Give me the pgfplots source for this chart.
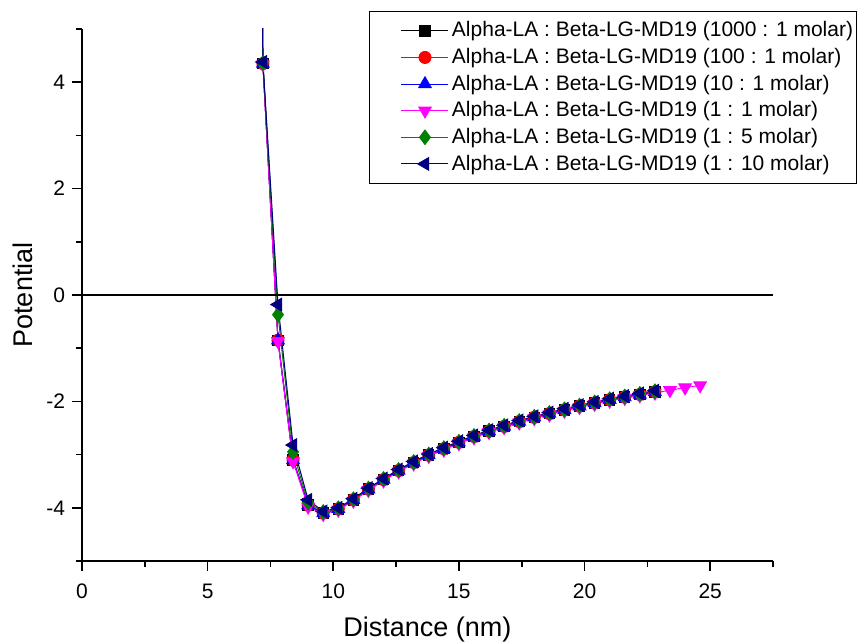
\documentclass[border=0pt]{standalone}
\usepackage{pgfplots}
\pgfplotsset{compat=1.18}
\usepackage{pgfplotstable}
\usepackage{fontspec}
\setmainfont{Liberation Sans}
\definecolor{cgreen}{RGB}{0,128,0}
\definecolor{cnavy}{RGB}{0,0,128}
\definecolor{cmag}{RGB}{255,0,255}

\pgfplotstableread{
x y
6.6 30
7.2 4.35
7.8 -0.85
8.4 -3.10
9.0 -3.95
9.6 -4.10
10.2 -4.02
10.8 -3.85
11.4 -3.65
12.0 -3.47
12.6 -3.30
13.2 -3.15
13.8 -3.01
14.4 -2.89
15.0 -2.77
15.6 -2.66
16.2 -2.56
16.8 -2.47
17.4 -2.38
18.0 -2.30
18.6 -2.23
19.2 -2.16
19.8 -2.09
20.4 -2.03
21.0 -1.97
21.6 -1.92
22.2 -1.87
22.8 -1.82
}\dataA

\pgfplotstableread{
x y
6.6 30
7.2 4.33
7.8 -0.87
8.4 -3.13
9.0 -3.98
9.6 -4.12
10.2 -4.04
10.8 -3.87
11.4 -3.67
12.0 -3.49
12.6 -3.32
13.2 -3.17
13.8 -3.03
14.4 -2.91
15.0 -2.79
15.6 -2.68
16.2 -2.58
16.8 -2.49
17.4 -2.40
18.0 -2.32
18.6 -2.25
19.2 -2.18
19.8 -2.11
20.4 -2.05
21.0 -1.99
21.6 -1.94
22.2 -1.89
22.8 -1.84
23.4 -1.79
24.0 -1.74
24.6 -1.70
}\dataD

\pgfplotstableread{
x y
6.6 30
7.2 4.36
7.8 -0.37
8.4 -2.95
9.0 -3.90
9.6 -4.08
10.2 -4.01
10.8 -3.84
11.4 -3.64
12.0 -3.46
12.6 -3.29
13.2 -3.14
13.8 -3.00
14.4 -2.88
15.0 -2.76
15.6 -2.65
16.2 -2.55
16.8 -2.46
17.4 -2.37
18.0 -2.29
18.6 -2.22
19.2 -2.15
19.8 -2.08
20.4 -2.02
21.0 -1.96
21.6 -1.91
22.2 -1.86
22.8 -1.81
}\dataE

\pgfplotstableread{
x y
6.6 30
7.2 4.38
7.8 -0.18
8.4 -2.82
9.0 -3.85
9.6 -4.07
10.2 -4.00
10.8 -3.83
11.4 -3.63
12.0 -3.45
12.6 -3.28
13.2 -3.13
13.8 -2.99
14.4 -2.87
15.0 -2.75
15.6 -2.64
16.2 -2.54
16.8 -2.45
17.4 -2.36
18.0 -2.28
18.6 -2.21
19.2 -2.14
19.8 -2.07
20.4 -2.01
21.0 -1.95
21.6 -1.90
22.2 -1.85
22.8 -1.80
}\dataF

\begin{document}
\begin{tikzpicture}
\useasboundingbox (-41pt,-41pt) rectangle (388pt,280.5pt);
\begin{axis}[
  width=345.5pt, height=266pt, scale only axis,
  xmin=0, xmax=27.5, ymin=-5, ymax=5,
  axis x line*=bottom, axis y line*=left,
  axis line style={line width=1pt, -},
  tick align=outside,
  xtick={0,5,10,15,20,25},
  minor xtick={2.5,7.5,12.5,17.5,22.5,27.5},
  ytick={-4,-2,0,2,4},
  minor ytick={-5,-3,-1,1,3,5},
  major tick length=5pt, minor tick length=3pt,
  every tick/.style={black, line width=0.8pt},
  tick label style={font=\fontsize{10.5}{12}\selectfont},
  xticklabel style={yshift=-3pt},
  /pgf/number format/assume math mode=true,
  xlabel={Distance (nm)}, ylabel={Potential},
  label style={font=\fontsize{13.5}{16}\selectfont},
  xlabel style={yshift=-2pt},
  legend style={at={(1.121,1.0338)}, anchor=north east,
    draw=black, line width=0.5pt, inner xsep=0pt, inner ysep=3pt,
    font=\fontsize{10.5}{12}\selectfont,
    nodes={inner ysep=2.1pt, inner xsep=1.5pt},
    row sep=0pt},
  legend cell align=left,
  legend image code/.code={
    \path[draw=none, fill=none] (-16pt,0pt) rectangle (0pt,0.1pt);
    \draw[mark repeat=2,mark phase=2] plot coordinates {(0pt,0pt) (11.75pt,0pt) (23.5pt,0pt)};
  },
  clip=true,
]
\addplot[black, line width=0.5pt, mark=square*, mark size=2.6pt, mark options={solid}] table {\dataA};
\addlegendentry{Alpha-LA : Beta-LG-MD19 (1000 : 1 molar)}
\addplot[red, line width=0.5pt, mark=*, mark size=3pt] table {\dataA};
\addlegendentry{Alpha-LA : Beta-LG-MD19 (100 : 1 molar)}
\addplot[blue, line width=0.5pt, mark=triangle*, mark size=3.6pt] table {\dataA};
\addlegendentry{Alpha-LA : Beta-LG-MD19 (10 : 1 molar)}
\addplot[cmag, line width=0.5pt, mark=triangle*, mark size=3.6pt, mark options={rotate=180}] table {\dataD};
\addlegendentry{Alpha-LA : Beta-LG-MD19 (1 : 1 molar)}
\addplot[cgreen, line width=0.5pt, mark=diamond*, mark size=3.6pt] table {\dataE};
\addlegendentry{Alpha-LA : Beta-LG-MD19 (1 : 5 molar)}
\addplot[cnavy, line width=0.5pt, mark=triangle*, mark size=3.6pt, mark options={rotate=90}] table {\dataF};
\addlegendentry{Alpha-LA : Beta-LG-MD19 (1 : 10 molar)}
\addplot[black, line width=1pt, forget plot] coordinates {(0,0) (27.5,0)};
\end{axis}
\end{tikzpicture}
\end{document}
